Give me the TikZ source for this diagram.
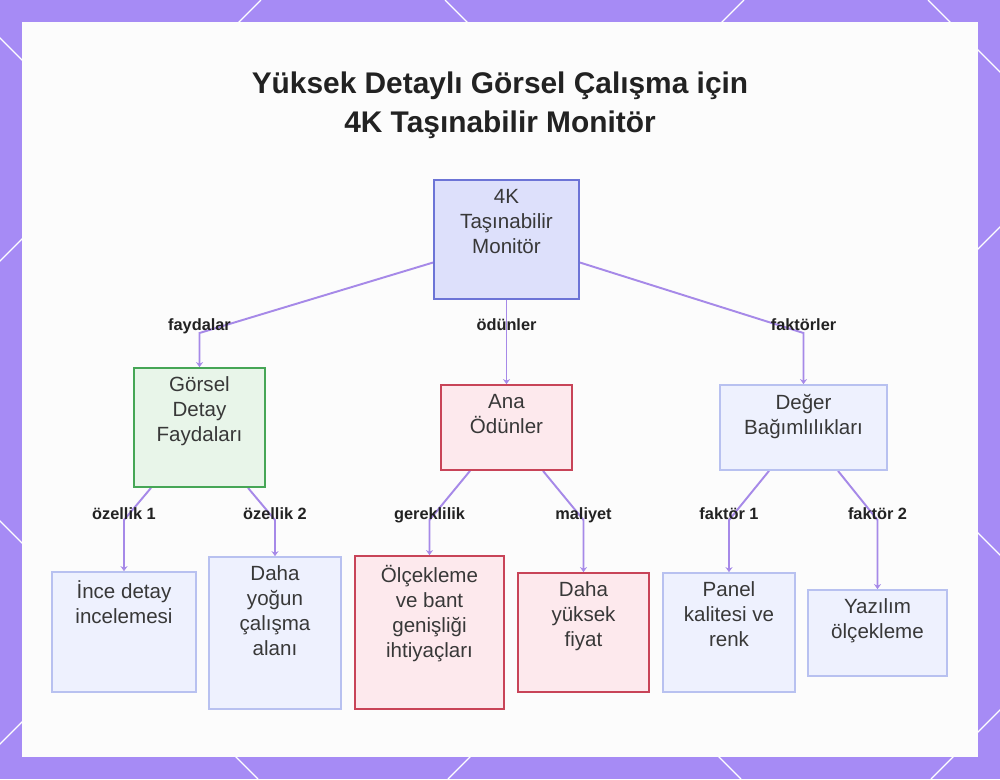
\documentclass[tikz,border=0pt]{standalone}
\usepackage{fontspec}
\setmainfont{Liberation Sans}
\usetikzlibrary{arrows.meta,backgrounds}
\definecolor{lilac}{RGB}{166,139,245}
\definecolor{wire}{RGB}{166,137,232}
\definecolor{rootfill}{RGB}{221,224,251}
\definecolor{rootline}{RGB}{108,116,214}
\definecolor{goodfill}{RGB}{232,245,233}
\definecolor{goodline}{RGB}{70,166,86}
\definecolor{costfill}{RGB}{253,233,237}
\definecolor{costline}{RGB}{200,68,88}
\definecolor{plainfill}{RGB}{238,241,254}
\definecolor{plainline}{RGB}{184,193,240}
\definecolor{ink}{RGB}{34,34,34}
\tikzset{
  >={Stealth[length=1mm,width=1.4mm]},
  box/.style={draw=#1line,fill=#1fill,line width=1pt,inner sep=0pt},
  box/.default=plain,
  boxtext/.style={font=\fontsize{11.7}{14.2}\selectfont,text=ink!90,align=center,
    inner sep=0pt,anchor=north,execute at begin node=\strut},
  tag/.style={font=\fontsize{9.3}{11}\selectfont\bfseries,text=ink,inner sep=0pt,anchor=base},
  title/.style={font=\fontsize{17}{22.1}\selectfont\bfseries,text=ink,align=center,
    inner sep=0pt,anchor=base},
  edge/.style={->,draw=wire,line width=1.1pt},
  grid/.style={white,line width=0.7pt},
}
\begin{document}
\begin{tikzpicture}[x=0.02cm,y=-0.02cm]
  \useasboundingbox (0,0) rectangle (1000,779);

  % title
  \node[title] (ttl) at (500,132) {Yüksek Detaylı Görsel Çalışma için\\4K Taşınabilir Monitör};

  % boxes, level 0 and 1
  \node[box=root,minimum width=2.9cm,minimum height=2.38cm] (mon) at (506.5,239.5) {};
  \node[box=good,minimum width=2.62cm,minimum height=2.38cm] (grn) at (199.5,427.5) {};
  \node[box=cost,minimum width=2.62cm,minimum height=1.7cm] (ana) at (506.5,427.5) {};
  \node[box,minimum width=3.34cm,minimum height=1.7cm] (val) at (803.5,427.5) {};
  % boxes, level 2
  \node[box,minimum width=2.88cm,minimum height=2.4cm] (ince) at (124,632) {};
  \node[box,minimum width=2.64cm,minimum height=3.04cm] (yog) at (275,633) {};
  \node[box=cost,minimum width=2.98cm,minimum height=3.06cm] (olc) at (429.5,632.5) {};
  \node[box=cost,minimum width=2.62cm,minimum height=2.38cm] (fiy) at (583.5,632.5) {};
  \node[box,minimum width=2.64cm,minimum height=2.38cm] (pan) at (729,632.5) {};
  \node[box,minimum width=2.78cm,minimum height=1.72cm] (yaz) at (877.5,633) {};

  % box texts
  \node[boxtext] (mon-t) at ([yshift=-0.19cm]mon.north) {4K\\Taşınabilir\\Monitör};
  \node[boxtext] (grn-t) at ([yshift=-0.19cm]grn.north) {Görsel\\Detay\\Faydaları};
  \node[boxtext] (ana-t) at ([yshift=-0.19cm]ana.north) {Ana\\Ödünler};
  \node[boxtext] (val-t) at ([yshift=-0.19cm]val.north) {Değer\\Bağımlılıkları};
  \node[boxtext] (ince-t) at ([yshift=-0.19cm]ince.north) {İnce detay\\incelemesi};
  \node[boxtext] (yog-t) at ([yshift=-0.19cm]yog.north) {Daha\\yoğun\\çalışma\\alanı};
  \node[boxtext] (olc-t) at ([yshift=-0.19cm]olc.north) {Ölçekleme\\ve bant\\genişliği\\ihtiyaçları};
  \node[boxtext] (fiy-t) at ([yshift=-0.19cm]fiy.north) {Daha\\yüksek\\fiyat};
  \node[boxtext] (pan-t) at ([yshift=-0.19cm]pan.north) {Panel\\kalitesi ve\\renk};
  \node[boxtext] (yaz-t) at ([yshift=-0.19cm]yaz.north) {Yazılım\\ölçekleme};

  % edge labels
  \node[tag] (l-fay) at (199.5,330) {faydalar};
  \node[tag] (l-odn) at (506.5,330) {ödünler};
  \node[tag] (l-fak) at (803.5,330) {faktörler};
  \node[tag] (l-oz1) at (124,519) {özellik 1};
  \node[tag] (l-oz2) at (275,519) {özellik 2};
  \node[tag] (l-ger) at (429.5,519) {gereklilik};
  \node[tag] (l-mal) at (583.5,519) {maliyet};
  \node[tag] (l-fk1) at (729,519) {faktör 1};
  \node[tag] (l-fk2) at (877.5,519) {faktör 2};

  \begin{scope}[on background layer]
    % frame with lattice
    \fill[lilac] (0,0) rectangle (1000,779);
    \begin{scope}
      \clip (0,0) rectangle (1000,779);
      \foreach \c in {261,744,1227,1710} \draw[grid] (\c,0) -- (\c-779,779);
      \foreach \c in {-521,-38,445,928} \draw[grid] (\c,0) -- (\c+779,779);
    \end{scope}
    \fill[white!98!gray] (22,22) rectangle (978,757);

    % connectors
    \draw[edge] ([yshift=-0.46cm]mon.west) -- ([yshift=-0.06cm]l-fay.base) -- (grn.north);
    \draw[edge] (mon.south) -- (ana.north);
    \draw[edge] ([yshift=-0.46cm]mon.east) -- ([yshift=-0.06cm]l-fak.base) -- (val.north);
    \draw[edge] ([xshift=-0.97cm]grn.south) -- ([yshift=-0.02cm]l-oz1.base) -- (ince.north);
    \draw[edge] ([xshift=0.97cm]grn.south) -- ([yshift=-0.02cm]l-oz2.base) -- (yog.north);
    \draw[edge] ([xshift=-0.73cm]ana.south) -- ([yshift=-0.02cm]l-ger.base) -- (olc.north);
    \draw[edge] ([xshift=0.73cm]ana.south) -- ([yshift=-0.02cm]l-mal.base) -- (fiy.north);
    \draw[edge] ([xshift=-0.69cm]val.south) -- ([yshift=-0.02cm]l-fk1.base) -- (pan.north);
    \draw[edge] ([xshift=0.69cm]val.south) -- ([yshift=-0.02cm]l-fk2.base) -- (yaz.north);
  \end{scope}
\end{tikzpicture}
\end{document}
